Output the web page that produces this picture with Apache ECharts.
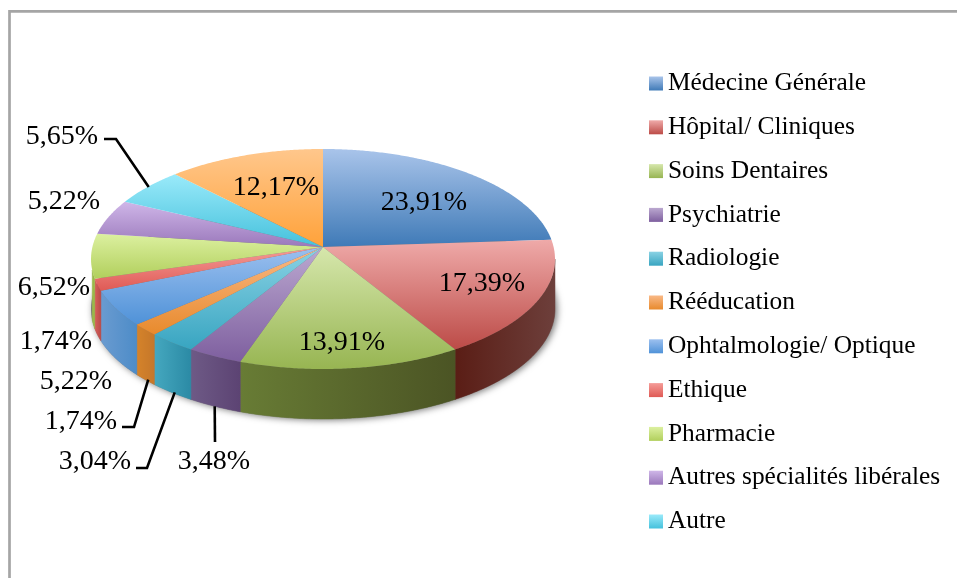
<!DOCTYPE html>
<html>
<head>
<meta charset="utf-8">
<style>
html, body { margin: 0; padding: 0; background: #fff; }
#chart { width: 957px; height: 578px; }
</style>
<script src="https://cdn.jsdelivr.net/npm/echarts@6/dist/echarts.min.js"></script>
</head>
<body>
<div id="chart"></div>
<script>
// legend only lists 11 names, the 12th (orange) slice has none in the picture
const categories = ['Médecine Générale', 'Hôpital/ Cliniques', 'Soins Dentaires', 'Psychiatrie', 'Radiologie',
    'Rééducation', 'Ophtalmologie/ Optique', 'Ethique', 'Pharmacie', 'Autres spécialités libérales', 'Autre'];
const shares = [23.91, 17.39, 13.91, 3.48, 3.04, 1.74, 5.22, 1.74, 6.52, 5.22, 5.65, 12.17];

const topColors = [
    ['#a9c4ea', '#3f7ab7'], ['#efaaa9', '#bc4b47'], ['#d6e7ac', '#97b552'], ['#bba8d0', '#7e5f9f'],
    ['#8ad2e4', '#38a5c1'], ['#f9b987', '#e88a2c'], ['#9cc0ef', '#4f92d8'], ['#f59c98', '#df5a55'],
    ['#dcf0a0', '#b1cf5c'], ['#cfb6e8', '#9a78bb'], ['#9aeafa', '#45c1dc'], ['#ffc78c', '#ffa23a']
];
const wallColors = [
    ['#3f7ab7', '#3f7ab7'], ['#5a1d15', '#6d3f3b'], ['#687c35', '#4b5424'], ['#6e5a86', '#5c4373'],
    ['#45a8bf', '#2b8aa5'], ['#d5832a', '#c5772a'], ['#6a9bd0', '#4d8cc8'], ['#d8605c', '#b84a48'],
    ['#9ab84a', '#9ab84a'], ['#9a78bb', '#9a78bb'], ['#45c1dc', '#45c1dc'], ['#ffa23a', '#ffa23a']
];

// percent labels, centre of the text in pixels
const labelCentres = [[424, 203], [482, 284], [342, 343], [214, 462], [95, 462], [81, 422],
    [76, 382], [56, 342], [54, 288], [64, 202], [62, 137], [276, 188]];
// hand placed leaders: slice index -> elbow points, the last point is found on the pie
const leaders = {
    3: { onWall: true, dx: 0, points: [[215, 442]] },
    4: { onWall: true, dx: 3, points: [[136, 468], [147, 468]] },
    5: { onWall: true, dx: 3, points: [[122, 427], [134, 427]] },
    10: { onWall: false, dx: 1, points: [[104, 139], [116, 139]] }
};

// pie drawn as a tilted disc, the far side is squeezed a bit like office does
const pie = { cx: 323, cy: 247, a: 230.6, b: 108.7, persp: 0.109, depth: 50 };
const wallFrom = 96.3;
const wallTo = 258;

function project(deg) {
    const t = deg * Math.PI / 180;
    const u = Math.sin(t);
    const v = -Math.cos(t);
    const d = 1 - pie.persp * v;
    return [pie.cx + pie.a * u / d, pie.cy + pie.b * v / d];
}

function arc(from, to) {
    const pts = [];
    const n = Math.max(2, Math.ceil((to - from) * 2));
    for (let i = 0; i <= n; i++) {
        pts.push(project(from + (to - from) * i / n));
    }
    return pts;
}

function gradient(c, horizontal) {
    return new echarts.graphic.LinearGradient(0, 0, horizontal ? 1 : 0, horizontal ? 0 : 1, [
        { offset: 0, color: c[0] },
        { offset: 1, color: c[1] }
    ]);
}

function fmt(v) {
    return v.toFixed(2).replace('.', ',') + '%';
}

const starts = [];
shares.reduce(function (sum, v, i) {
    starts[i] = sum;
    return sum + v;
}, 0);
const total = shares.reduce(function (a, b) { return a + b; }, 0);

function makeRender(i) {
    return function (params, api) {
        const value = api.value(0);
        const from = starts[i] / total * 360;
        const to = (starts[i] + value) / total * 360;
        const children = [];

        // soft shadow under the disc, only once
        if (i === 0) {
            const rim = arc(0, 360).map(function (p) { return [p[0], p[1] + pie.depth]; });
            children.push({
                type: 'polygon',
                z2: 0,
                shape: { points: rim },
                style: { fill: '#777', shadowBlur: 7, shadowColor: 'rgba(0,0,0,0.55)', shadowOffsetX: 2, shadowOffsetY: 1 }
            });
        }

        const wa = Math.max(from, wallFrom);
        const wb = Math.min(to, wallTo);
        if (wb > wa) {
            const edge = arc(wa, wb);
            const lower = edge.map(function (p) { return [p[0], p[1] + pie.depth]; }).reverse();
            const wallFill = gradient(wallColors[i], true);
            children.push({
                type: 'polygon',
                z2: 1,
                shape: { points: edge.concat(lower) },
                style: { fill: wallFill, stroke: wallFill, lineWidth: 0.5 }
            });
        }

        const topFill = gradient(topColors[i], false);
        children.push({
            type: 'polygon',
            z2: 2,
            shape: { points: [[pie.cx, pie.cy]].concat(arc(from, to)) },
            style: { fill: topFill }
        });

        const lead = leaders[i];
        if (lead) {
            const p = project((from + to) / 2);
            const end = [p[0] + lead.dx, p[1] + (lead.onWall ? pie.depth : 0)];
            children.push({
                type: 'polyline',
                z2: 3,
                shape: { points: lead.points.concat([end]) },
                style: { stroke: '#000', lineWidth: 2.6, fill: null }
            });
        }

        children.push({
            type: 'text',
            z2: 10,
            x: labelCentres[i][0],
            y: labelCentres[i][1],
            style: {
                text: fmt(value),
                fill: '#000',
                font: '28px "Liberation Serif"',
                align: 'center',
                verticalAlign: 'middle'
            }
        });
        return { type: 'group', children: children };
    };
}

const chart = echarts.init(document.getElementById('chart'), null, { renderer: 'canvas' });

chart.setOption({
    animation: false,
    legend: {
        orient: 'vertical',
        left: 649,
        top: 71,
        padding: 0,
        height: 500,
        icon: 'rect',
        itemWidth: 14,
        itemHeight: 14,
        itemGap: 18.8,
        selectedMode: false,
        textStyle: { fontFamily: 'Liberation Serif', fontSize: 25.4, color: '#000' },
        data: categories.map(function (name, i) {
            return { name: name, itemStyle: { color: gradient(topColors[i], false) } };
        })
    },
    graphic: [{
        type: 'polyline',
        silent: true,
        shape: { points: [[9.5, 578], [9.5, 11.3], [957, 11.3]] },
        style: { stroke: '#a5a5a5', lineWidth: 2.7, fill: null }
    }],
    series: shares.map(function (v, i) {
        return {
            type: 'custom',
            name: categories[i] || 'Sans nom',
            coordinateSystem: 'none',
            silent: true,
            itemStyle: { color: topColors[i][1] },
            renderItem: makeRender(i),
            data: [[v]]
        };
    })
});

window.addEventListener('resize', function () {
    chart.resize();
});
</script>
</body>
</html>
